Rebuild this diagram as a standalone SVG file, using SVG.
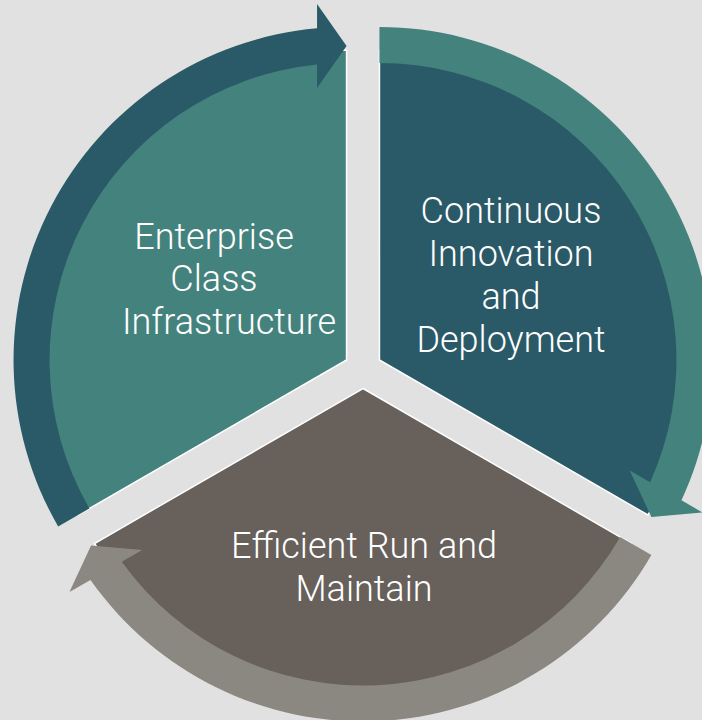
<svg xmlns="http://www.w3.org/2000/svg" xmlns:xlink="http://www.w3.org/1999/xlink" width="702" height="720" viewBox="0 0 702 720">
  <style>
    .sector { stroke: #ffffff; stroke-width: 1.5; stroke-linejoin: miter; }
    .label { font-family: Roboto, "Open Sans", "Liberation Sans", sans-serif; font-weight: 300; font-size: 36px; fill: #ffffff; text-anchor: middle; }
  </style>
  <defs>
    <path id="sectorShape" d="M0,0 L-268.47,155 A310,310 0 0 1 0,-310 Z"/>
    <path id="arrowShape" d="M-257.21,148.5 L-288.39,166.5 A333,333 0 0 1 -29.5,-331.69 L-29.5,-356 L0,-314 L-29.5,-272 L-29.5,-295.53 A297,297 0 0 0 -257.21,148.5 Z"/>
  </defs>
  <rect width="702" height="720" fill="#e0e1e0"/>

  <g id="node-enterprise">
    <use xlink:href="#sectorShape" class="sector" fill="#44837d" transform="translate(346.55,360)"/>
  </g>
  <g id="node-continuous">
    <use xlink:href="#sectorShape" class="sector" fill="#2a5a67" transform="translate(363,369.5) rotate(120) translate(-16.45,-9.5)"/>
  </g>
  <g id="node-efficient">
    <use xlink:href="#sectorShape" class="sector" fill="#67605b" transform="translate(363,369.5) rotate(240) translate(-16.45,-9.5)"/>
  </g>

  <g id="connectors">
    <use xlink:href="#arrowShape" fill="#2a5a67" transform="translate(346.55,360)"/>
    <use xlink:href="#arrowShape" fill="#44837d" transform="translate(363,369.5) rotate(120) translate(-16.45,-9.5)"/>
    <use xlink:href="#arrowShape" fill="#8b8781" transform="translate(363,369.5) rotate(240) translate(-16.45,-9.5)"/>
  </g>

  <g id="labels">
    <text class="label" x="214" y="249">Enterprise</text>
    <text class="label" x="214" y="291">Class</text>
    <text class="label" x="229" y="334">Infrastructure</text>
    <text class="label" x="511" y="223">Continuous</text>
    <text class="label" x="511" y="266">Innovation</text>
    <text class="label" x="511" y="309">and</text>
    <text class="label" x="511" y="352">Deployment</text>
    <text class="label" x="364" y="558">Efficient Run and</text>
    <text class="label" x="364" y="601">Maintain</text>
  </g>
</svg>
